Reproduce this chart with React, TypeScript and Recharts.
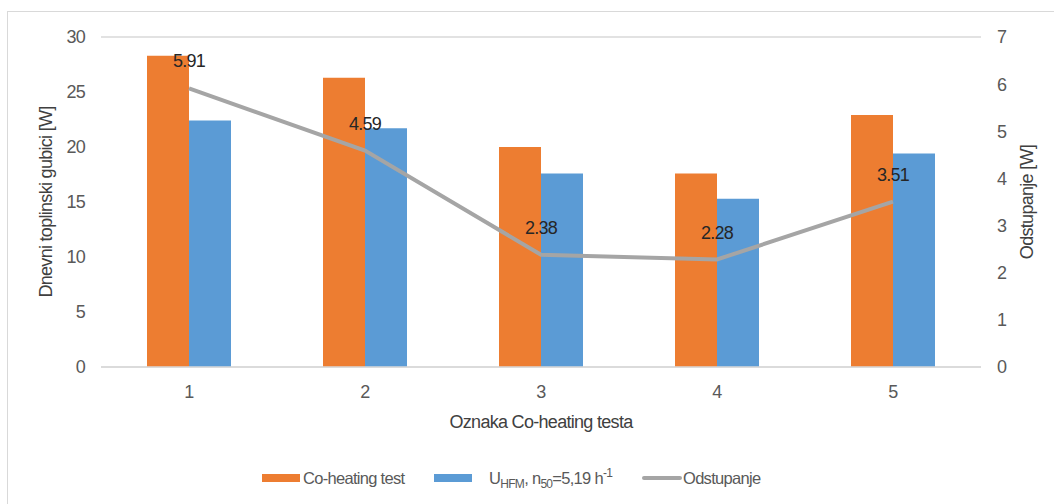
import { ComposedChart, Bar, Line, XAxis, YAxis, CartesianGrid, Legend, LabelList } from 'recharts'

const categories = ['1', '2', '3', '4', '5']
const coHeating = [28.3, 26.3, 20.0, 17.6, 22.9]
const uHfm = [22.4, 21.7, 17.6, 15.3, 19.4]
const odstupanje = [5.91, 4.59, 2.38, 2.28, 3.51]
const leftTicks = [0, 5, 10, 15, 20, 25, 30]
const rightTicks = [0, 1, 2, 3, 4, 5, 6, 7]

const ORANGE = '#ED7D31'
const BLUE = '#5B9BD5'
const GRAY = '#A5A5A5'
const FONT = "'Liberation Sans', Arial, sans-serif"
const LS = -0.7

const data = categories.map((c, i) => ({
  name: c,
  co: coHeating[i],
  u: uHfm[i],
  odst: odstupanje[i],
}))

const LineLabel = (props: any) => {
  const { x, y, value } = props
  return (
    <text x={x} y={y - 21} textAnchor="middle" fontSize={18} fill="#262626" fontFamily={FONT} letterSpacing={LS}>
      {Number(value).toFixed(2)}
    </text>
  )
}

// legend drawn by hand so the subscripts/superscript render
const LegendContent = () => (
  <div style={{ display: 'flex', justifyContent: 'flex-start', alignItems: 'center', paddingLeft: 262, fontFamily: FONT, fontSize: 16.5, letterSpacing: -0.7, color: '#595959', height: 24 }}>
    <span style={{ display: 'inline-block', width: 38, height: 8, background: ORANGE, marginRight: 3 }} />
    <span style={{ width: 99, marginRight: 32, whiteSpace: 'nowrap' }}>Co-heating test</span>
    <span style={{ display: 'inline-block', width: 38, height: 8, background: BLUE, marginRight: 17 }} />
    <span style={{ width: 119, marginRight: 34, whiteSpace: 'nowrap' }}>
      U<sub style={{ fontSize: 12 }}>HFM</sub>, n<sub style={{ fontSize: 12 }}>50</sub>=5,19 h<sup style={{ fontSize: 12 }}>-1</sup>
    </span>
    <span style={{ display: 'inline-block', width: 40, height: 4, background: GRAY, borderRadius: 2, marginRight: 1 }} />
    <span style={{ whiteSpace: 'nowrap' }}>Odstupanje</span>
  </div>
)

const tickStyle = { fill: '#595959', fontSize: 18, fontFamily: FONT, letterSpacing: LS }

export default function App() {
  return (
    <div style={{ position: 'absolute', left: 0, top: 0, width: 1054, height: 504, background: '#fff', overflow: 'hidden' }}>
      <div style={{ position: 'absolute', left: 7, top: 11, width: 1060, height: 520, border: '1px solid #D9D9D9' }} />
      <div style={{ position: 'absolute', left: 0, top: 0 }}>
        <ComposedChart width={1054} height={504} data={data} margin={{ top: 37, right: 0, left: 0, bottom: 14 }} barGap={0}>
          <CartesianGrid vertical={false} stroke="#D9D9D9" strokeWidth={1.3} />
          <XAxis
            dataKey="name"
            tickLine={false}
            axisLine={{ stroke: '#D9D9D9', strokeWidth: 1.3 }}
            tick={tickStyle}
            tickMargin={12}
            height={99}
            label={{ value: 'Oznaka Co-heating testa', position: 'insideBottom', offset: 38, fill: '#404040', fontSize: 18, fontFamily: FONT, letterSpacing: LS }}
          />
          <YAxis
            yAxisId="left"
            domain={[0, 30]}
            ticks={leftTicks}
            width={101}
            tickLine={false}
            axisLine={false}
            tick={tickStyle}
            tickMargin={10}
            label={{ value: 'Dnevni toplinski gubici [W]', angle: -90, position: 'insideLeft', offset: 46, style: { textAnchor: 'middle' }, fill: '#404040', fontSize: 18, fontFamily: FONT, letterSpacing: LS }}
          />
          <YAxis
            yAxisId="right"
            orientation="right"
            domain={[0, 7]}
            ticks={rightTicks}
            width={73}
            tickLine={false}
            axisLine={false}
            tick={tickStyle}
            tickMargin={10}
            label={{ value: 'Odstupanje [W]', angle: -90, position: 'insideRight', offset: 27, style: { textAnchor: 'middle' }, fill: '#404040', fontSize: 18, fontFamily: FONT, letterSpacing: LS }}
          />
          <Legend verticalAlign="bottom" content={<LegendContent />} />
          <Bar yAxisId="left" dataKey="co" fill={ORANGE} barSize={42} isAnimationActive={false} />
          <Bar yAxisId="left" dataKey="u" fill={BLUE} barSize={42} isAnimationActive={false} />
          <Line yAxisId="right" dataKey="odst" stroke={GRAY} strokeWidth={4} dot={false} isAnimationActive={false}>
            <LabelList dataKey="odst" content={<LineLabel />} />
          </Line>
        </ComposedChart>
      </div>
    </div>
  )
}
